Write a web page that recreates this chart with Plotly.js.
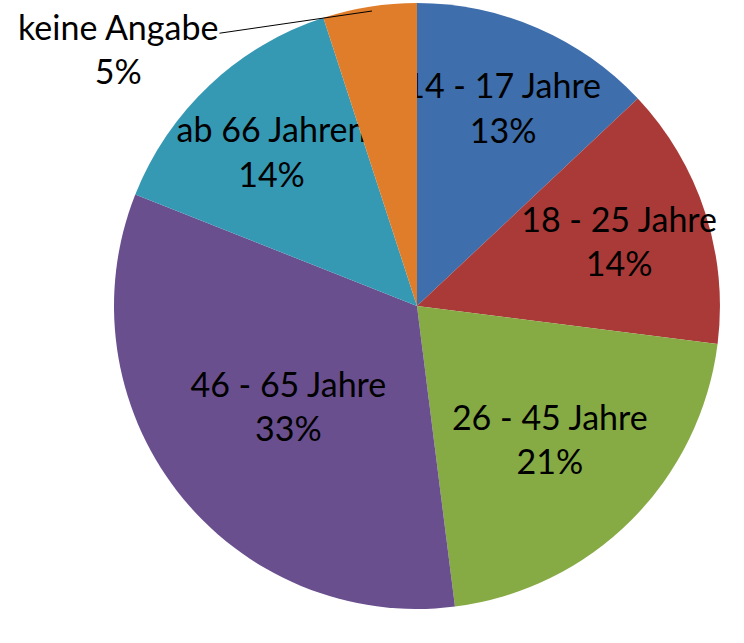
<!DOCTYPE html>
<html><head><meta charset="utf-8">
<script src="https://cdn.plot.ly/plotly-3.0.1.min.js"></script>
<style>body{margin:0;background:#fff}#chart{width:744px;height:643px}</style>
</head><body><div id="chart"></div>
<script>
const categories = ["14 - 17 Jahre", "18 - 25 Jahre", "26 - 45 Jahre", "46 - 65 Jahre", "ab 66 Jahren", "keine Angabe"];
const values = [13, 14, 21, 33, 14, 5];
const colors = ["#3e6eab", "#aa3a38", "#86aa44", "#6a4f8f", "#3599b4", "#e07d2b"];
const positions = ["inside", "inside", "inside", "inside", "inside", "none"];

const FONT = "Lato, 'Open Sans', sans-serif";
const outsideIdx = positions.indexOf("none");
const data = [{
  type: "pie",
  labels: categories,
  values: values,
  sort: false,
  direction: "clockwise",
  rotation: 0,
  marker: {colors: colors, line: {width: 0}},
  texttemplate: "%{label}<br>%{percent:.0%}",
  textposition: positions,
  insidetextorientation: "horizontal",
  textfont: {family: FONT, size: 34, color: "#000"},
  hoverinfo: "none",
  domain: {x: [0.1532, 0.9677], y: [0.0529, 0.9953]}
}];

const layout = {
  width: 744, height: 643,
  margin: {l: 0, r: 0, t: 0, b: 0},
  paper_bgcolor: "#fff",
  showlegend: false,
  uniformtext: {mode: "show", minsize: 34},
  annotations: [{
    xref: "paper", yref: "paper",
    x: 372/744, y: 1 - 11/643,
    text: categories[outsideIdx] + "<br>" + values[outsideIdx] + "%",
    showarrow: true, arrowhead: 0, arrowwidth: 1, arrowcolor: "#000",
    ax: -254, ay: 37,
    font: {family: FONT, size: 34, color: "#000"}
  }]
};
Plotly.newPlot("chart", data, layout, {displayModeBar: false, staticPlot: true});
</script></body></html>
